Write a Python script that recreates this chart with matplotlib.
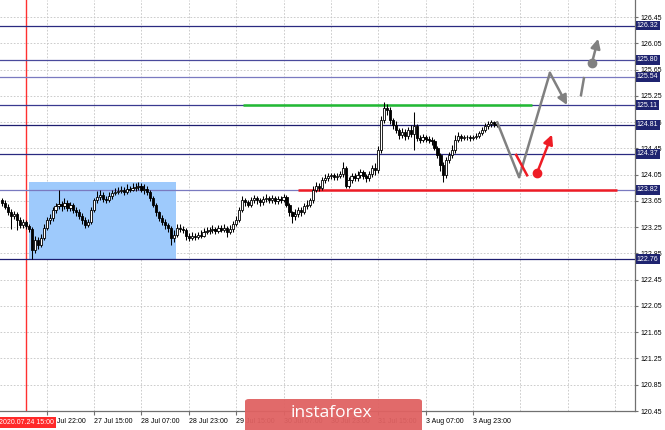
import matplotlib
matplotlib.use("Agg")
import matplotlib.pyplot as plt
from matplotlib.patches import Rectangle, FancyBboxPatch

# hourly candles, 24 Jul - 3 Aug 2020
FIRST_OPEN = 123.66
CLOSES = [
    123.62, 123.56, 123.48, 123.42, 123.45, 123.36, 123.28, 123.33, 123.27, 123.22,
    122.90, 123.05, 122.98, 123.09, 123.24, 123.36, 123.39, 123.51, 123.57, 123.60,
    123.57, 123.62, 123.54, 123.59, 123.51, 123.48, 123.42, 123.36, 123.28, 123.33,
    123.51, 123.66, 123.71, 123.74, 123.68, 123.66, 123.72, 123.77, 123.79, 123.80,
    123.82, 123.79, 123.83, 123.82, 123.85, 123.86, 123.88, 123.82, 123.83, 123.79,
    123.69, 123.59, 123.48, 123.39, 123.33, 123.28, 123.24, 123.09, 123.13, 123.24,
    123.22, 123.21, 123.12, 123.09, 123.12, 123.10, 123.13, 123.12, 123.18, 123.19,
    123.21, 123.22, 123.19, 123.24, 123.21, 123.24, 123.18, 123.22, 123.30, 123.36,
    123.51, 123.66, 123.63, 123.59, 123.66, 123.69, 123.66, 123.63, 123.68, 123.69,
    123.66, 123.69, 123.65, 123.68, 123.66, 123.71, 123.59, 123.48, 123.42, 123.45,
    123.51, 123.48, 123.57, 123.59, 123.66, 123.82, 123.88, 123.85, 123.97, 124.00,
    124.03, 124.04, 124.01, 124.03, 124.06, 124.15, 123.88, 123.97, 124.03, 124.00,
    124.04, 124.09, 124.03, 124.00, 124.06, 124.15, 124.12, 124.42, 124.88, 125.06,
    125.03, 124.88, 124.81, 124.73, 124.65, 124.70, 124.64, 124.73, 124.67, 124.79,
    124.61, 124.58, 124.62, 124.59, 124.58, 124.56, 124.46, 124.35, 124.20, 124.04,
    124.27, 124.35, 124.42, 124.58, 124.64, 124.61, 124.62, 124.62, 124.61, 124.62,
    124.64, 124.68, 124.73, 124.79, 124.82, 124.85, 124.82, 124.81,
]
HIGHS = [
    123.70, 123.66, 123.60, 123.52, 123.50, 123.48, 123.40, 123.38, 123.36, 123.30,
    123.25, 123.12, 123.10, 123.14, 123.30, 123.40, 123.45, 123.56, 123.62, 123.82,
    123.65, 123.70, 123.66, 123.63, 123.62, 123.56, 123.52, 123.46, 123.40, 123.38,
    123.55, 123.70, 123.80, 123.82, 123.78, 123.72, 123.78, 123.82, 123.85, 123.86,
    123.88, 123.86, 123.90, 123.88, 123.92, 123.93, 123.94, 123.92, 123.90, 123.88,
    123.82, 123.72, 123.62, 123.50, 123.43, 123.38, 123.32, 123.27, 123.20, 123.30,
    123.30, 123.27, 123.24, 123.16, 123.17, 123.16, 123.18, 123.20, 123.24, 123.25,
    123.26, 123.28, 123.26, 123.29, 123.28, 123.30, 123.27, 123.28, 123.34, 123.42,
    123.56, 123.72, 123.70, 123.67, 123.71, 123.74, 123.73, 123.70, 123.72, 123.75,
    123.73, 123.74, 123.72, 123.73, 123.72, 123.76, 123.74, 123.62, 123.50, 123.52,
    123.56, 123.55, 123.62, 123.66, 123.70, 123.88, 123.94, 123.92, 124.02, 124.06,
    124.08, 124.08, 124.07, 124.07, 124.10, 124.24, 124.18, 124.02, 124.08, 124.07,
    124.10, 124.14, 124.12, 124.06, 124.11, 124.20, 124.22, 124.48, 124.94, 125.16,
    125.12, 125.08, 124.92, 124.86, 124.76, 124.76, 124.74, 124.78, 124.80, 125.00,
    124.82, 124.65, 124.67, 124.66, 124.64, 124.62, 124.60, 124.49, 124.38, 124.24,
    124.32, 124.40, 124.50, 124.66, 124.70, 124.67, 124.66, 124.66, 124.65, 124.66,
    124.68, 124.72, 124.77, 124.83, 124.87, 124.88, 124.87, 124.85,
]
LOWS = [
    123.58, 123.52, 123.44, 123.22, 123.38, 123.20, 123.24, 123.24, 123.22, 123.18,
    122.77, 122.85, 122.92, 122.95, 123.05, 123.20, 123.30, 123.35, 123.46, 123.52,
    123.50, 123.52, 123.50, 123.50, 123.46, 123.42, 123.38, 123.30, 123.24, 123.25,
    123.30, 123.48, 123.62, 123.66, 123.63, 123.62, 123.63, 123.68, 123.74, 123.75,
    123.77, 123.74, 123.76, 123.78, 123.80, 123.80, 123.82, 123.78, 123.76, 123.74,
    123.65, 123.55, 123.42, 123.34, 123.28, 123.22, 123.18, 122.98, 123.02, 123.10,
    123.17, 123.16, 123.06, 123.04, 123.05, 123.05, 123.07, 123.08, 123.10, 123.14,
    123.15, 123.16, 123.15, 123.16, 123.17, 123.18, 123.10, 123.14, 123.18, 123.27,
    123.33, 123.48, 123.58, 123.55, 123.56, 123.62, 123.61, 123.58, 123.59, 123.64,
    123.62, 123.62, 123.60, 123.61, 123.62, 123.63, 123.55, 123.42, 123.31, 123.36,
    123.40, 123.42, 123.45, 123.52, 123.55, 123.62, 123.78, 123.80, 123.82, 123.93,
    123.96, 123.98, 123.97, 123.97, 124.00, 124.02, 123.84, 123.84, 123.93, 123.95,
    123.96, 124.00, 123.98, 123.94, 123.96, 124.02, 124.05, 124.08, 124.38, 124.84,
    124.96, 124.82, 124.74, 124.68, 124.60, 124.61, 124.58, 124.60, 124.62, 124.42,
    124.56, 124.53, 124.54, 124.54, 124.53, 124.50, 124.42, 124.30, 124.10, 123.94,
    124.00, 124.22, 124.30, 124.38, 124.54, 124.57, 124.58, 124.58, 124.57, 124.58,
    124.59, 124.61, 124.65, 124.70, 124.75, 124.78, 124.78, 124.77,
]

# price axis and levels
Y_TICKS = [120.45, 120.85, 121.25, 121.65, 122.05, 122.45, 122.85, 123.25,
           123.65, 124.05, 124.45, 124.85, 125.25, 125.65, 126.05, 126.45]
LEVELS = [126.32, 125.80, 125.54, 125.11, 124.81, 124.37, 123.82, 122.76]
LEVEL_COLORS = ['#2a2a80', '#4a4a9c', '#7a7ac0', '#3a3a90', '#1e1e70',
                '#2a2a80', '#7a7ac0', '#1e1e70']

# time axis (bar numbers)
GRID_BARS = [15, 31, 47, 63, 79, 95, 111, 127, 143, 159, 175, 191, 207]
TICK_BARS = [15, 31, 47, 63, 79, 95, 111, 127, 143, 159]
TICK_LABELS = ['24 Jul 22:00', '27 Jul 15:00', '28 Jul 07:00', '28 Jul 23:00',
               '29 Jul 15:00', '30 Jul 07:00', '30 Jul 23:00', '31 Jul 15:00',
               '3 Aug 07:00', '3 Aug 23:00']
MARK_BAR = 8
MARK_LABEL = '2020.07.24 15:00'

# drawn objects
BOX = (9.0, 58.7, 122.76, 123.94)
GREEN_SEG = (81.3, 179.0, 125.11)
RED_SEG = (99.9, 207.7, 123.82)
GRAY_PATH_X = [167.2, 174.6, 185.0]
GRAY_PATH_Y = [124.85, 124.01, 125.60]
GRAY_ARROW_END = (190.8, 125.11)
GRAY_DASH_X = [195.5, 196.5]
GRAY_DASH_Y = [125.26, 125.52]
GRAY_DOT = (199.2, 125.75)
GRAY_DOT_ARROW = (201.3, 126.12)
RED_DASH_X = [173.6, 177.3]
RED_DASH_Y = [124.35, 124.04]
RED_DOT = (180.6, 124.07)
RED_DOT_ARROW = (185.7, 124.66)

FONT = 'Liberation Sans'


def draw_candles(ax):
    opens = [FIRST_OPEN] + CLOSES[:-1]
    for i, (o, h, l, c) in enumerate(zip(opens, HIGHS, LOWS, CLOSES)):
        ax.vlines(i, l, h, color='black', lw=0.75, zorder=3)
        bottom = min(o, c)
        height = max(abs(c - o), 0.01)
        face = 'white' if c >= o else 'black'
        ax.add_patch(Rectangle((i - 0.38, bottom), 0.76, height,
                               facecolor=face, edgecolor='black', lw=0.6,
                               zorder=4))


def make_figure():
    fig = plt.figure(figsize=(6.65, 4.30), dpi=100, facecolor='white')
    ax = fig.add_axes([0, 19 / 430, 635 / 665, 411 / 430])
    ax.set_xlim(-0.78, 213.75)
    ax.set_ylim(120.45, 126.71)

    # dashed grid
    for b in GRID_BARS:
        ax.axvline(b, color='#c4c4c4', lw=0.6, ls=(0, (2, 2)), zorder=0)
    for t in Y_TICKS:
        ax.axhline(t, color='#c4c4c4', lw=0.6, ls=(0, (2, 2)), zorder=0)

    x0, x1, y0, y1 = BOX
    ax.add_patch(Rectangle((x0, y0), x1 - x0, y1 - y0, facecolor='#9ecafc',
                           edgecolor='none', zorder=1))

    ax.axvline(MARK_BAR, color='#ff3030', lw=1.0, zorder=2)

    for lvl, col in zip(LEVELS, LEVEL_COLORS):
        ax.axhline(lvl, color=col, lw=0.9, zorder=2)
    ax.hlines(GREEN_SEG[2], GREEN_SEG[0], GREEN_SEG[1], color='#22bb33',
              lw=1.8, zorder=2.5)
    ax.hlines(RED_SEG[2], RED_SEG[0], RED_SEG[1], color='#ee1c25',
              lw=1.8, zorder=2.5)

    draw_candles(ax)

    # forecast sketch
    gray = '#808080'
    arrow = dict(arrowstyle='-|>', lw=1.8, mutation_scale=14,
                 shrinkA=0, shrinkB=0)
    ax.plot(GRAY_PATH_X, GRAY_PATH_Y, color=gray, lw=1.8,
            solid_capstyle='round', zorder=5)
    ax.annotate('', xy=GRAY_ARROW_END, xytext=(GRAY_PATH_X[-1], GRAY_PATH_Y[-1]),
                arrowprops=dict(arrow, color=gray), zorder=5)
    ax.plot(GRAY_DASH_X, GRAY_DASH_Y, color=gray, lw=1.8, zorder=5)
    ax.plot(*GRAY_DOT, 'o', color=gray, ms=6, zorder=5)
    ax.annotate('', xy=GRAY_DOT_ARROW, xytext=GRAY_DOT,
                arrowprops=dict(arrow, color=gray), zorder=5)
    red = '#ee1c25'
    ax.plot(RED_DASH_X, RED_DASH_Y, color=red, lw=1.8, zorder=5)
    ax.plot(*RED_DOT, 'o', color=red, ms=6, zorder=5)
    ax.annotate('', xy=RED_DOT_ARROW, xytext=RED_DOT,
                arrowprops=dict(arrow, color=red), zorder=5)

    # axes styling
    for side in ('top', 'left'):
        ax.spines[side].set_visible(False)
    for side in ('right', 'bottom'):
        ax.spines[side].set_color('#707070')
        ax.spines[side].set_linewidth(0.9)
    ax.yaxis.tick_right()
    ax.set_yticks(Y_TICKS)
    ax.set_yticklabels([f'{t:.2f}' for t in Y_TICKS], fontsize=5,
                       family=FONT)
    ax.tick_params(axis='y', length=2, pad=2, color='#707070')
    ax.set_xticks(TICK_BARS)
    ax.set_xticklabels(TICK_LABELS, fontsize=5, family=FONT, ha='left')
    ax.tick_params(axis='x', length=3, pad=2, color='#707070')

    # highlighted level prices
    trans = ax.get_yaxis_transform()
    for lvl in LEVELS:
        ax.text(1.003, lvl, f'{lvl:.2f}', transform=trans, fontsize=5,
                family=FONT, color='white', va='center', ha='left',
                clip_on=False, zorder=10,
                bbox=dict(boxstyle='square,pad=0.2', facecolor='#1f2470',
                          edgecolor='none'))

    xtrans = ax.get_xaxis_transform()
    ax.text(MARK_BAR, -0.028, MARK_LABEL, transform=xtrans, fontsize=5,
            family=FONT, color='white', ha='center', va='center',
            clip_on=False, zorder=10,
            bbox=dict(boxstyle='square,pad=0.3', facecolor='#ff2a2a',
                      edgecolor='none'))

    # watermark
    fig.patches.append(FancyBboxPatch((245 / 665, -0.02), 177 / 665,
                                      31 / 430 + 0.02,
                                      boxstyle='round,pad=0,rounding_size=0.006',
                                      transform=fig.transFigure,
                                      facecolor='#e06262', edgecolor='none',
                                      alpha=0.95, zorder=20))
    fig.text(331.5 / 665, 17 / 430, 'instaforex', color='white',
             family='Open Sans', fontsize=12.5, ha='center', va='center',
             zorder=21)

    fig.savefig('out.png', dpi=100)


def main():
    make_figure()


if __name__ == '__main__':
    main()
